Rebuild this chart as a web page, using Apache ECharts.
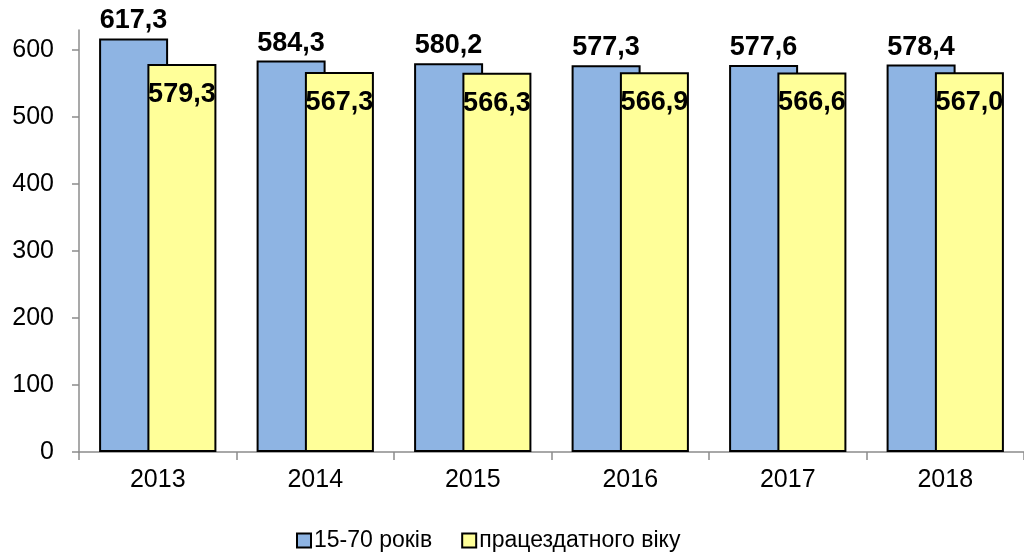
<!DOCTYPE html>
<html>
<head>
<meta charset="utf-8">
<style>
    html, body { margin: 0; padding: 0; background: #fff; }
    .bar { width: 1024px; height: 552px; }
</style>
<script src="https://cdn.jsdelivr.net/npm/echarts@6/dist/echarts.min.js"></script>
</head>
<body>
<div class="bar"></div>
<script>
// дані
var years = ['2013', '2014', '2015', '2016', '2017', '2018'];
var age1570 = [617.3, 584.3, 580.2, 577.3, 577.6, 578.4];
var workAge = [579.3, 567.3, 566.3, 566.9, 566.6, 567.0];
var yTicks = [0, 100, 200, 300, 400, 500, 600];
var seriesNames = ['15-70 років', 'працездатного віку'];

(function () {
    let myEchart = echarts.init(document.getElementsByClassName('bar')[0]);
    let font = 'Liberation Sans, Arial, sans-serif';
    // підпис значень з комою
    function fmt(p) {
        return p.value.toFixed(1).replace('.', ',');
    }
    let option = {
        animation: false,
        textStyle: { fontFamily: font },
        grid: {
            left: 79,
            top: 30,
            width: 950,
            height: 422
        },
        legend: {
            data: seriesNames,
            left: 291,
            top: 524,
            icon: 'rect',
            itemWidth: 14,
            itemHeight: 14,
            itemGap: 29,
            textStyle: { fontSize: 23, color: '#000', fontFamily: font, padding: [0, 0, 0, -2] }
        },
        xAxis: {
            type: 'category',
            data: years,
            axisLine: { lineStyle: { color: '#8c8c8c', width: 1.5 } },
            axisTick: { show: true, length: 8, lineStyle: { color: '#8c8c8c', width: 1.5 } },
            axisLabel: { fontSize: 25, color: '#000', margin: 16, fontFamily: font }
        },
        yAxis: {
            type: 'value',
            min: 0,
            max: 630,
            interval: 100,
            axisLine: { show: true, lineStyle: { color: '#8c8c8c', width: 1.5 } },
            axisTick: { show: true, length: 7, customValues: yTicks, lineStyle: { color: '#8c8c8c', width: 1.5 } },
            axisLabel: { fontSize: 25, color: '#000', margin: 25, customValues: yTicks, fontFamily: font },
            splitLine: { show: false }
        },
        series: [
            {
                name: seriesNames[0],
                type: 'bar',
                data: age1570,
                barWidth: 69,
                barGap: '-30%',
                itemStyle: { color: '#8EB4E3', borderColor: '#000', borderWidth: 2 },
                label: {
                    show: true,
                    position: 'top',
                    distance: 4,
                    formatter: fmt,
                    fontSize: 27,
                    fontWeight: 'bold',
                    color: '#000',
                    fontFamily: font
                }
            },
            {
                name: seriesNames[1],
                type: 'bar',
                data: workAge,
                barWidth: 69,
                barGap: '-30%',
                itemStyle: { color: '#FFFF99', borderColor: '#000', borderWidth: 2 },
                label: {
                    show: true,
                    position: 'insideTop',
                    distance: 17,
                    formatter: fmt,
                    fontSize: 27,
                    fontWeight: 'bold',
                    color: '#000',
                    fontFamily: font
                }
            }
        ]
    };
    myEchart.setOption(option);
    window.addEventListener('resize', function () {
        myEchart.resize();
    })
})();
</script>
</body>
</html>
